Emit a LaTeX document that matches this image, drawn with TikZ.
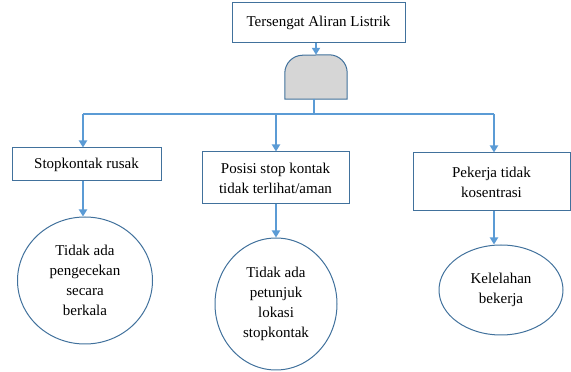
\documentclass[tikz,border=0pt]{standalone}
\usepackage{fontspec}
\setmainfont{Liberation Serif}
\usetikzlibrary{arrows.meta,shapes.geometric}
\definecolor{linkblue}{HTML}{5B9BD5}
\definecolor{edgeblue}{HTML}{41719C}
\definecolor{gatefill}{HTML}{D6D6D6}
\begin{document}
\begin{tikzpicture}[x=1pt,y=1pt,
  every node/.style={font=\fontsize{15}{20}\selectfont, align=center, inner sep=0pt},
  causebox/.style={draw=edgeblue, line width=1pt, rectangle},
  effect/.style={draw=edgeblue, line width=1pt, ellipse},
  link/.style={draw=linkblue, line width=2pt},
  arr/.style={link, -{Triangle[length=7pt,width=8pt]}},
  gateshape/.style={draw=edgeblue, line width=1pt, fill=gatefill}]
  \useasboundingbox (0,0) rectangle (571,372);

  % top event
  \node[causebox, minimum width=173, minimum height=40] (top) at (318.5,349) {Tersengat Aliran Listrik};

  % gate body
  \node[minimum width=62, minimum height=44] (gate) at (316,295) {};
  \draw[gateshape] (gate.south west) -- ++(0,26)
     arc[start angle=180, end angle=90, radius=18pt]
     -- ([xshift=-18pt]gate.north east)
     arc[start angle=90, end angle=0, radius=18pt]
     -- (gate.south east) -- cycle;

  % causes
  \node[causebox, minimum width=149, minimum height=33] (c1) at (86.5,207.5) {Stopkontak rusak};
  \node[causebox, minimum width=147, minimum height=52] (c2) at (275.5,194) {Posisi stop kontak\\tidak terlihat/aman};
  \node[causebox, minimum width=157, minimum height=58] (c3) at (491.5,190) {Pekerja tidak\\kosentrasi};

  % root causes
  \node[effect, minimum width=135, minimum height=127] (e1) at (85,91.5) {Tidak ada\\pengecekan\\secara\\berkala};
  \node[effect, minimum width=122, minimum height=132] (e2) at (276,68) {Tidak ada\\petunjuk\\lokasi\\stopkontak};
  \node[effect, minimum width=124, minimum height=90] (e3) at (501,82) {Kelelahan\\bekerja};

  % branch points on the distribution line
  \coordinate (j1) at (83,258);
  \coordinate (j2) at (276,258);
  \coordinate (j3) at (494,258);
  \coordinate (g0) at (314,273);

  % connectors
  \draw[arr] (top.south -| gate.north) -- (gate.north);
  \draw[link] (g0) -- (g0 |- j1);
  \draw[link] (j1) -- (j3);
  \draw[arr] (j1) -- (c1.north -| j1);
  \draw[arr] (j2) -- (c2.north -| j2);
  \draw[arr] (j3) -- (c3.north -| j3);
  \draw[arr] (c1.south -| j1) -- (e1.north -| j1);
  \draw[arr] (c2.south -| j2) -- (e2.north -| j2);
  \draw[arr] (c3.south -| j3) -- (e3.north -| j3);
\end{tikzpicture}
\end{document}
